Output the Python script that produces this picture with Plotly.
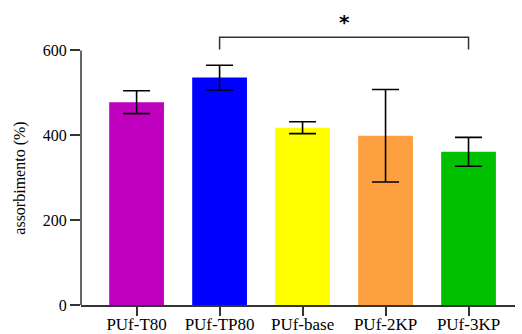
import plotly.graph_objects as go

categories = ["PUf-T80", "PUf-TP80", "PUf-base", "PUf-2KP", "PUf-3KP"]
values = [478, 536, 418, 399, 361]
errors = [27, 29, 14, 109, 34]
colors = ["#BF00BF", "#0000FF", "#FFFF00", "#FFA040", "#00C000"]
y_ticks = [0, 200, 400, 600]
y_title = "assorbimento (%)"
bracket_pair = ["PUf-TP80", "PUf-3KP"]
bracket_y = 631
bracket_drop = 602
star_label = "*"
star_y = 668

font_family = "Liberation Serif, Times New Roman, serif"

fig = go.Figure()
fig.add_trace(go.Bar(
    x=categories, y=values,
    marker=dict(color=colors, line=dict(width=0)),
    width=0.66,
    error_y=dict(type="data", array=errors, visible=True, color="black", thickness=1.6, width=13.5),
    showlegend=False,
))

# significance bracket
fig.add_trace(go.Scatter(
    x=[bracket_pair[0], bracket_pair[0], bracket_pair[1], bracket_pair[1]],
    y=[bracket_drop, bracket_y, bracket_y, bracket_drop],
    mode="lines", line=dict(color="#333333", width=1.5),
    showlegend=False, hoverinfo="skip",
))
fig.add_annotation(
    x=(categories.index(bracket_pair[0]) + categories.index(bracket_pair[1])) / 2,
    y=star_y, text="<b>" + star_label + "</b>", showarrow=False,
    font=dict(family="DejaVu Sans, Arial, sans-serif", size=20, color="black"),
)

# y axis title centred on the ticked range
fig.add_annotation(
    xref="paper", yref="y", x=-0.1406, y=max(y_ticks) / 2,
    text=y_title, textangle=-90, showarrow=False,
    xanchor="center", yanchor="middle",
    font=dict(family=font_family, size=16, color="black"),
)

# y axis line only over the ticked range
fig.add_shape(type="line", xref="paper", yref="y", x0=0, x1=0, y0=0, y1=max(y_ticks),
              line=dict(color="#333333", width=1.5))

fig.update_layout(
    width=522, height=334,
    margin=dict(l=81, r=7, t=7.5, b=29),
    paper_bgcolor="white", plot_bgcolor="white",
    font=dict(family=font_family, color="black"),
)
fig.update_xaxes(
    type="category", range=[-0.67, 4.56], automargin=False,
    showline=True, linecolor="#333333", linewidth=1.5,
    ticks="outside", ticklen=9, tickwidth=1.5, tickcolor="#333333",
    tickfont=dict(family=font_family, size=17, color="black"),
    ticklabelstandoff=-6,
    showgrid=False, zeroline=False,
)
fig.update_yaxes(
    range=[0, 700], tickvals=y_ticks, automargin=False,
    showline=False,
    ticks="outside", ticklen=10, tickwidth=1.5, tickcolor="#333333",
    tickfont=dict(family=font_family, size=16, color="black"),
    showgrid=False, zeroline=False,
)

fig.write_html("out.html")
